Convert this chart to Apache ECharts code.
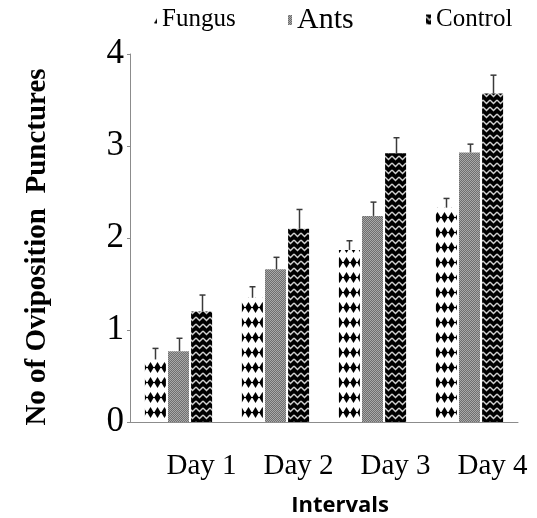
<!DOCTYPE html>
<html>
<head>
<meta charset="utf-8">
<script src="https://cdn.jsdelivr.net/npm/echarts@6/dist/echarts.min.js"></script>
<style>
    html, body { margin: 0; padding: 0; background: #fff; }
    #main { width: 537px; height: 518px; }
</style>
</head>
<body>
<div id="main"></div>
<script>
    // values
    var days = ['Day 1', 'Day 2', 'Day 3', 'Day 4'];
    var fungus = [0.68, 1.35, 1.87, 2.33];
    var ants = [0.77, 1.66, 2.24, 2.93];
    var control = [1.20, 2.10, 2.92, 3.57];
    var fungusErr = [0.12, 0.12, 0.10, 0.10];
    var antsErr = [0.14, 0.13, 0.15, 0.09];
    var controlErr = [0.18, 0.21, 0.17, 0.20];

    var barW = 21, barGap = 2.1;

    // fill patterns drawn on small canvases
    function tile(w, h, draw) {
        var c = document.createElement('canvas');
        c.width = w; c.height = h;
        draw(c.getContext('2d'), w, h);
        return c;
    }
    var diamondTile = tile(7, 15, function (ctx, w, h) {
        ctx.fillStyle = '#fff'; ctx.fillRect(0, 0, w, h);
        ctx.fillStyle = '#000';
        ctx.beginPath();
        ctx.moveTo(3.5, 2); ctx.lineTo(6.8, 7.5); ctx.lineTo(3.5, 13); ctx.lineTo(0.2, 7.5);
        ctx.closePath(); ctx.fill();
        ctx.fillRect(0, 7, w, 1);
    });
    var greyTile = tile(2, 2, function (ctx) {
        ctx.fillStyle = '#6e6e6e'; ctx.fillRect(0, 0, 2, 2);
        ctx.fillStyle = '#a8a8a8'; ctx.fillRect(0, 0, 1, 1); ctx.fillRect(1, 1, 1, 1);
    });
    var zigTile = tile(7, 7, function (ctx, w, h) {
        ctx.fillStyle = '#000'; ctx.fillRect(0, 0, w, h);
        ctx.strokeStyle = '#d0d0d0'; ctx.lineWidth = 1.4;
        ctx.beginPath();
        ctx.moveTo(0, 2); ctx.lineTo(3.5, 5.5); ctx.lineTo(7, 2);
        ctx.stroke();
    });

    var groups = [fungus, ants, control];
    var errs = [fungusErr, antsErr, controlErr];
    var errData = [];
    groups.forEach(function (vals, s) {
        vals.forEach(function (v, i) {
            errData.push([i, v, v + errs[s][i], s]);
        });
    });

    var serif = 'Liberation Serif, Times New Roman, serif';

    var myChart = echarts.init(document.getElementById('main'));
    myChart.setOption({
        animation: false,
        grid: { left: 130, right: 19, top: 54, bottom: 96 },
        legend: [
            { left: 149, top: 2, icon: 'rect', itemWidth: 3, itemHeight: 8,
              data: [{ name: 'Fungus' }], textStyle: { fontFamily: serif, fontSize: 25, color: '#000' } },
            { left: 283, top: 0, icon: 'rect', itemWidth: 4, itemHeight: 10,
              data: [{ name: 'Ants' }], textStyle: { fontFamily: serif, fontSize: 30, color: '#000' } },
            { left: 421, top: 2, icon: 'rect', itemWidth: 5, itemHeight: 10,
              data: [{ name: 'Control' }], textStyle: { fontFamily: serif, fontSize: 25, color: '#000' } }
        ],
        xAxis: {
            type: 'category',
            data: days,
            axisLine: { lineStyle: { color: '#8c8c8c', width: 1 } },
            axisTick: { length: 6, lineStyle: { color: '#8c8c8c' } },
            axisLabel: {
                interval: 0, margin: 30, padding: [0, 0, 0, 46],
                fontFamily: serif, fontSize: 29, color: '#000'
            }
        },
        yAxis: {
            type: 'value',
            min: 0, max: 4, interval: 1,
            splitLine: { show: false },
            axisLine: { show: true, lineStyle: { color: '#8c8c8c', width: 1 } },
            axisTick: { show: true, length: 3, lineStyle: { color: '#8c8c8c' } },
            axisLabel: { margin: 6, fontFamily: serif, fontSize: 35, color: '#000' }
        },
        graphic: [
            { type: 'text', x: 38, y: 247, rotation: Math.PI / 2,
              style: { text: 'No of Oviposition  Punctures', fontFamily: serif, fontWeight: 'bold',
                       fontSize: 29, fill: '#000', align: 'center', verticalAlign: 'middle' } },
            { type: 'text', x: 340, y: 506,
              style: { text: 'Intervals', fontFamily: 'Open Sans, sans-serif', fontWeight: 'bold',
                       fontSize: 22, fill: '#000', align: 'center', verticalAlign: 'middle' } }
        ],
        series: [
            { name: 'Fungus', type: 'bar', data: fungus, barWidth: barW, barGap: '10%',
              itemStyle: { color: { image: diamondTile, repeat: 'repeat' } } },
            { name: 'Ants', type: 'bar', data: ants, barWidth: barW, barGap: '10%',
              itemStyle: { color: { image: greyTile, repeat: 'repeat' } } },
            { name: 'Control', type: 'bar', data: control, barWidth: barW, barGap: '10%',
              itemStyle: { color: { image: zigTile, repeat: 'repeat' } } },
            {
                type: 'custom',
                z: 10,
                data: errData,
                encode: { x: 0, y: [1, 2] },
                renderItem: function (params, api) {
                    var off = (api.value(3) - 1) * (barW + barGap);
                    var p0 = api.coord([api.value(0), api.value(1)]);
                    var p1 = api.coord([api.value(0), api.value(2)]);
                    var x = Math.round(p0[0] + off) + 0.5;
                    var st = { stroke: '#3a3a3a', lineWidth: 1.5 };
                    return {
                        type: 'group',
                        children: [
                            { type: 'line', shape: { x1: x, y1: p0[1], x2: x, y2: p1[1] }, style: st },
                            { type: 'line', shape: { x1: x - 3, y1: p1[1], x2: x + 3, y2: p1[1] }, style: st }
                        ]
                    };
                }
            }
        ]
    });
</script>
</body>
</html>
